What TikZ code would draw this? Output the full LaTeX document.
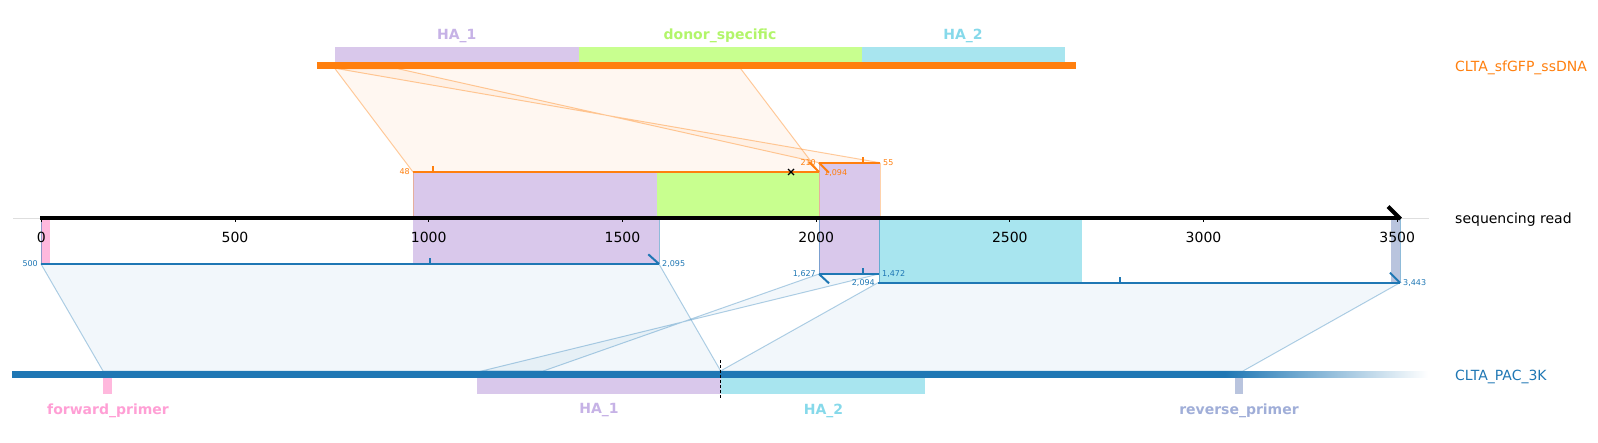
\documentclass[tikz,border=0pt]{standalone}
\usepackage{fontspec}
\setmainfont{DejaVu Sans}
\definecolor{cOr}{HTML}{FF7F0E}
\definecolor{cBl}{HTML}{1F77B4}
\definecolor{pBox}{HTML}{D9C8EB}
\definecolor{pTxt}{HTML}{C6B2E6}
\definecolor{gBox}{HTML}{C8FF8F}
\definecolor{gTxt}{HTML}{B2F56A}
\definecolor{cBox}{HTML}{A8E5EF}
\definecolor{cTxt}{HTML}{86D9EA}
\definecolor{kBox}{HTML}{FFB8DD}
\definecolor{kTxt}{HTML}{FF9FD5}
\definecolor{rBox}{HTML}{B9C4DE}
\definecolor{rTxt}{HTML}{A0AED8}
\begin{document}
\begin{tikzpicture}[x=1pt,y=-1pt,
  big/.style={font=\fontsize{14}{16}\selectfont, inner sep=0pt},
  small/.style={font=\fontsize{8}{9}\selectfont, inner sep=0pt},
  feat/.style={font=\fontsize{14}{16}\selectfont\bfseries, inner sep=0pt},
  seg/.style={line width=2pt},
  alnO/.style={fill=cOr, fill opacity=0.06, draw=cOr, draw opacity=0.4, line width=1pt},
  alnB/.style={fill=cBl, fill opacity=0.06, draw=cBl, draw opacity=0.35, line width=1pt},
  edgeO/.style={draw=cOr, draw opacity=0.35, line width=1pt},
  edgeB/.style={draw=cBl, draw opacity=0.5, line width=1pt}]
\useasboundingbox (0,0) rectangle (1598,442);

% ---------- coordinates ----------
\coordinate (s0) at (335,68.7);   \coordinate (s1) at (740.7,68.7);
\coordinate (s2) at (337.7,68.7); \coordinate (s3) at (397.9,68.7);
\coordinate (o1a) at (413,172);   \coordinate (o1b) at (819,172);
\coordinate (o2a) at (819,162.7); \coordinate (o2b) at (880,162.7);
\coordinate (b1a) at (41,264);    \coordinate (b1b) at (659,264);
\coordinate (b2a) at (819,274);   \coordinate (b2b) at (879,274);
\coordinate (b3a) at (878,282.7); \coordinate (b3b) at (1400,282.7);
\coordinate (p1a) at (103,371);   \coordinate (p1b) at (720.7,371);
\coordinate (p2a) at (543.3,371); \coordinate (p2b) at (481.7,371);
\coordinate (p3a) at (720.5,371); \coordinate (p3b) at (1243,371);

% ---------- alignment polygons ----------
\path[alnO] (s0) -- (s1) -- (o1b) -- (o1a) -- cycle;
\path[alnO] (s2) -- (o2b) -- (o2a) -- (s3) -- cycle;
\path[alnB] (b1a) -- (b1b) -- (p1b) -- (p1a) -- cycle;
\path[alnB] (b2a) -- (b2b) -- (p2b) -- (p2a) -- cycle;
\path[alnB] (b3a) -- (b3b) -- (p3b) -- (p3a) -- cycle;

% ---------- projected feature rectangles on read ----------
\fill[pBox] (413,172) rectangle (657,218);
\fill[gBox] (657,172) rectangle (819,218);
\fill[pBox] (819,162.7) rectangle (880,218);
\fill[kBox] (41,218) rectangle (50,264);
\fill[pBox] (413,218) rectangle (659,264);
\fill[pBox] (819,218) rectangle (879,274);
\fill[cBox] (879,218) rectangle (1082,282.7);
\fill[rBox] (1391,218) rectangle (1400,282.7);
\draw[edgeO] (413,172) -- (413,218);
\draw[edgeO] (819,162.7) -- (819,218);
\draw[edgeO] (880,162.7) -- (880,218);
\draw[edgeB] (659,218) -- (659,264);
\draw[edgeB] (819,218) -- (819,274);
\draw[edgeB] (879,218) -- (879,282.7);
\draw[edgeB] (41,218) -- (41,264);
\draw[edgeB] (1400,218) -- (1400,282.7);

% ---------- ssDNA (top) ----------
\fill[pBox] (335,47) rectangle (578.7,62.3);
\fill[gBox] (578.7,47) rectangle (862,62.3);
\fill[cBox] (862,47) rectangle (1065,62.3);
\fill[cOr] (317,62.3) rectangle (1076,68.7);
\node[feat, text=pTxt] (tHA1) at (456.7,36) {HA\_1};
\node[feat, text=gTxt] (tDS) at (720,36) {donor\_specific};
\node[feat, text=cTxt] (tHA2) at (963,36) {HA\_2};
\node[big, text=cOr, anchor=west] (lSS) at (1455,68) {CLTA\_sfGFP\_ssDNA};

% ---------- sequencing read axis ----------
\draw[black!13, line width=1pt] (13,218) -- (1429,218);
\draw[black, line width=4pt] (40,218) -- (1400,218);
\draw[black, line width=4pt] (1400.5,219) -- (1388,206.5);
\foreach \v in {0,500,...,3500} {
  \pgfmathsetmacro{\xx}{41.3+0.3874*\v}
  \draw[black, line width=1pt] (\xx,218) -- (\xx,222);
  \node[big] (tk\v) at (\xx,237) {\v};
}
\node[big, anchor=west] (lRead) at (1455,220) {sequencing read};

% ---------- orange read segments ----------
\draw[cOr, seg] (o1a) -- (o1b);
\draw[cOr, seg] (o1b) -- ++(-10,-10);
\draw[cOr, seg] (432.7,172) -- (432.7,166);
\node[small, text=cOr, anchor=east] (n48) at (410,172) {48};
\node[small, text=cOr, anchor=west] (n1094) at (824,172.5) {1,094};
\draw[cOr, seg] (o2a) -- (o2b);
\draw[cOr, seg] (o2a) -- ++(10,10);
\draw[cOr, seg] (862.7,162.7) -- (862.7,156.7);
\node[small, text=cOr, anchor=east] (n210) at (816,162.7) {210};
\node[small, text=cOr, anchor=west] (n55) at (883,162.7) {55};
\draw[black, line width=1.2pt] (788,169) -- (794,175) (788,175) -- (794,169);

% ---------- blue read segments ----------
\draw[cBl, seg] (b1a) -- (b1b);
\draw[cBl, seg] (b1b) -- ++(-10.7,-9.7);
\draw[cBl, seg] (430,264) -- (430,258);
\node[small, text=cBl, anchor=east] (n500) at (38,264) {500};
\node[small, text=cBl, anchor=west] (n2095) at (662,264) {2,095};
\draw[cBl, seg] (b2a) -- (b2b);
\draw[cBl, seg] (b2a) -- ++(10,9.3);
\draw[cBl, seg] (862.7,274) -- (862.7,268);
\node[small, text=cBl, anchor=east] (n1627) at (816,274) {1,627};
\node[small, text=cBl, anchor=west] (n1472) at (882,274) {1,472};
\draw[cBl, seg] (b3a) -- (b3b);
\draw[cBl, seg] (b3b) -- ++(-10,-10);
\draw[cBl, seg] (1120,282.7) -- (1120,276.7);
\node[small, text=cBl, anchor=east] (n2094) at (875,283) {2,094};
\node[small, text=cBl, anchor=west] (n3443) at (1403,283) {3,443};

% ---------- PAC (bottom) ----------
\fill[cBl] (12,371) rectangle (1226,377.7);
\shade[left color=cBl, right color=white] (1225,371) rectangle (1428,377.7);
\fill[kBox] (103,377.7) rectangle (111.5,393.5);
\fill[pBox] (477,377.7) rectangle (720.5,393.5);
\fill[cBox] (720.5,377.7) rectangle (924.5,393.5);
\fill[rBox] (1235,377.7) rectangle (1243,393.5);
\coordinate (dTop) at (720.5,360);
\coordinate (dBot) at (720.5,398);
\draw[black, line width=1pt, dash pattern=on 3pt off 2pt] (dTop) -- (dBot);
\node[feat, text=kTxt] (bFP) at (108,410.5) {forward\_primer};
\node[feat, text=pTxt] (bHA1) at (599,410.5) {HA\_1};
\node[feat, text=cTxt] (bHA2) at (823.5,410.5) {HA\_2};
\node[feat, text=rTxt] (bRP) at (1239,410.5) {reverse\_primer};
\node[big, text=cBl, anchor=west] (lPAC) at (1455,377) {CLTA\_PAC\_3K};
\end{tikzpicture}
\end{document}
